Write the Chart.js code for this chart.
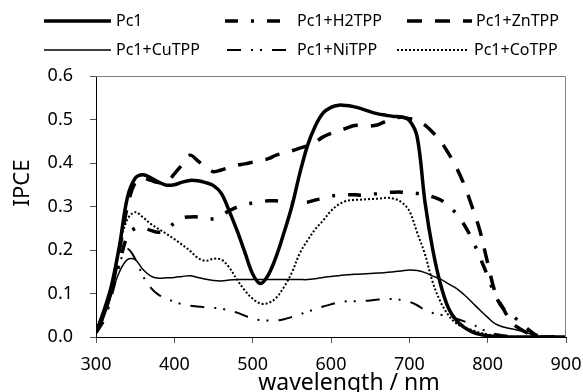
<!DOCTYPE html>
<html><head><meta charset="utf-8">
<script src="https://cdn.jsdelivr.net/npm/chart.js@4.4.1/dist/chart.umd.min.js"></script>
<style>html,body{margin:0;padding:0;background:#fff}#wrap{width:583px;height:392px;position:relative}</style>
</head><body><div id="wrap"><canvas id="c" width="583" height="392"></canvas></div>
<script>
const wavelengths = [300,310,320,330,340,350,360,370,380,390,400,410,420,430,440,450,460,470,480,490,500,510,520,530,540,550,560,570,580,590,600,610,620,630,640,650,660,670,680,690,700,710,720,730,740,750,760,770,780,790,800,810,820,830,840,850,860,870,880,890,900];
const seriesNames = ['Pc1','Pc1+H2TPP','Pc1+ZnTPP','Pc1+CuTPP','Pc1+NiTPP','Pc1+CoTPP'];
const pc1 = [0.01,0.06,0.12,0.21,0.32,0.365,0.373,0.366,0.356,0.349,0.35,
  0.356,0.36,0.359,0.355,0.348,0.33,0.29,0.245,0.195,0.145,
  0.123,0.143,0.185,0.24,0.30,0.375,0.44,0.485,0.515,0.528,
  0.533,0.532,0.529,0.524,0.518,0.513,0.51,0.507,0.506,0.498,
  0.46,0.31,0.20,0.12,0.066,0.038,0.022,0.012,0.006,0.003,
  0.001,0,0,0,0,0,0,0,0,0];
const h2tpp = [0.01,0.04,0.10,0.17,0.232,0.25,0.251,0.245,0.241,0.248,0.262,
  0.274,0.276,0.276,0.272,0.272,0.28,0.29,0.299,0.305,0.308,
  0.311,0.313,0.313,0.312,0.309,0.309,0.31,0.315,0.319,0.324,
  0.326,0.327,0.327,0.326,0.327,0.33,0.332,0.333,0.333,0.331,
  0.33,0.328,0.322,0.315,0.302,0.283,0.258,0.225,0.184,0.14,
  0.095,0.065,0.052,0.036,0.02,0.006,0,0,0,0];
const zntpp = [0.01,0.05,0.11,0.20,0.30,0.355,0.365,0.36,0.355,0.355,0.375,
  0.396,0.418,0.405,0.39,0.38,0.384,0.39,0.395,0.398,0.402,
  0.406,0.41,0.418,0.423,0.428,0.434,0.44,0.448,0.46,0.468,
  0.474,0.48,0.486,0.486,0.485,0.488,0.496,0.503,0.505,0.502,
  0.497,0.487,0.47,0.45,0.422,0.39,0.35,0.30,0.245,0.17,
  0.10,0.065,0.035,0.02,0.01,0.004,0,0,0,0];
const cutpp = [0.01,0.045,0.10,0.15,0.178,0.178,0.155,0.14,0.135,0.136,0.137,
  0.139,0.141,0.137,0.133,0.13,0.129,0.131,0.132,0.132,0.132,
  0.132,0.132,0.132,0.132,0.132,0.132,0.132,0.134,0.137,0.139,
  0.141,0.143,0.144,0.145,0.146,0.147,0.148,0.15,0.152,0.154,
  0.153,0.148,0.14,0.133,0.122,0.112,0.097,0.08,0.062,0.045,
  0.03,0.023,0.019,0.015,0.01,0.003,0,0,0,0];
const nitpp = [0.01,0.05,0.11,0.17,0.202,0.18,0.14,0.113,0.097,0.088,0.081,
  0.075,0.072,0.07,0.068,0.067,0.065,0.061,0.056,0.049,0.042,
  0.039,0.038,0.038,0.041,0.046,0.052,0.058,0.064,0.07,0.075,
  0.08,0.082,0.082,0.083,0.084,0.086,0.087,0.087,0.085,0.081,
  0.073,0.062,0.055,0.051,0.048,0.042,0.036,0.03,0.02,0.012,
  0.007,0.004,0.002,0,0,0,0,0,0,0];
const cotpp = [0.01,0.05,0.12,0.21,0.27,0.287,0.275,0.26,0.248,0.237,0.225,
  0.212,0.198,0.182,0.175,0.18,0.178,0.16,0.132,0.107,0.088,
  0.077,0.078,0.09,0.115,0.148,0.192,0.222,0.248,0.268,0.29,
  0.305,0.313,0.315,0.316,0.317,0.318,0.32,0.318,0.31,0.29,
  0.24,0.19,0.125,0.08,0.05,0.031,0.022,0.016,0.01,0.006,
  0.003,0,0,0,0,0,0,0,0,0];
const xTicks = [300,400,500,600,700,800,900];
const yTicks = [0.0,0.1,0.2,0.3,0.4,0.5,0.6];
const xTitle = 'wavelength / nm';
const yTitle = 'IPCE';

const seriesValues = [pc1,h2tpp,zntpp,cutpp,nitpp,cotpp];
const styles = [
  {w:3.5, dash:[]},
  {w:3.5, dash:[13,13,3,13]},
  {w:3.5, dash:[15,13]},
  {w:1.5, dash:[]},
  {w:2, dash:[14,10,2,7,2,10]},
  {w:2, dash:[2,2]}
];
const legendPos = [
  {x1:44,x2:111,tx:116,y:21},
  {x1:225,x2:282,tx:297,y:21},
  {x1:407,x2:472,tx:476,y:21},
  {x1:44,x2:111,tx:116,y:50},
  {x1:227,x2:292,tx:297,y:50},
  {x1:397,x2:469,tx:474,y:50}
];
const FONT = '"Noto Sans", sans-serif';

const datasets = seriesNames.map((n,i)=>({
  label:n,
  data: wavelengths.map((x,j)=>({x:x,y:seriesValues[i][j]})),
  borderColor:'#000',
  borderWidth:styles[i].w,
  borderDash:styles[i].dash,
  pointRadius:0,
  fill:false,
  tension:0.35,
  borderCapStyle:'butt'
}));

const extras = {
  id:'extras',
  afterDraw(chart){
    const ctx = chart.ctx, a = chart.chartArea;
    ctx.save();
    ctx.strokeStyle = '#808080'; ctx.lineWidth = 1; ctx.setLineDash([]);
    ctx.beginPath();
    ctx.moveTo(a.left, a.top+0.5); ctx.lineTo(a.right-0.5, a.top+0.5); ctx.lineTo(a.right-0.5, a.bottom);
    ctx.stroke();
    // legend
    ctx.fillStyle = '#000';
    ctx.font = '16px ' + FONT;
    ctx.textBaseline = 'middle';
    ctx.textAlign = 'left';
    seriesNames.forEach((n,i)=>{
      const p = legendPos[i], s = styles[i];
      ctx.strokeStyle = '#000';
      ctx.lineWidth = s.w;
      ctx.setLineDash(s.dash);
      ctx.lineCap = 'butt';
      ctx.beginPath(); ctx.moveTo(p.x1, p.y); ctx.lineTo(p.x2, p.y); ctx.stroke();
      ctx.fillText(n, p.tx, p.y);
    });
    ctx.setLineDash([]);
    // axis titles
    ctx.font = '23px ' + FONT;
    ctx.textAlign = 'center';
    ctx.textBaseline = 'alphabetic';
    ctx.fillText(xTitle, 349, 390);
    ctx.translate(23, 183);
    ctx.rotate(-Math.PI/2);
    ctx.font = '22px ' + FONT;
    ctx.textBaseline = 'middle';
    ctx.fillText(yTitle, 0, 0);
    ctx.restore();
  }
};

new Chart(document.getElementById('c'), {
  type:'line',
  data:{datasets},
  options:{
    responsive:false,
    animation:false,
    devicePixelRatio:1,
    layout:{padding:{top:76,right:17,left:0,bottom:0}},
    plugins:{legend:{display:false},tooltip:{enabled:false}},
    scales:{
      x:{
        type:'linear', min:300, max:900,
        afterBuildTicks(s){ s.ticks = xTicks.map(v=>({value:v})); },
        afterFit(s){ s.height = 55; s.paddingLeft = 0; s.paddingRight = 0; },
        grid:{drawOnChartArea:false, drawTicks:true, tickLength:6, color:'#555'},
        border:{color:'#000', width:1},
        ticks:{font:{family:FONT,size:18}, color:'#000', padding:11, maxRotation:0, callback:v=>String(v)}
      },
      y:{
        min:0, max:0.6,
        afterBuildTicks(s){ s.ticks = yTicks.map(v=>({value:v})); },
        afterFit(s){ s.width = 96; s.paddingTop = 0; s.paddingBottom = 0; },
        grid:{drawOnChartArea:false, drawTicks:true, tickLength:6, color:'#555'},
        border:{color:'#000', width:1},
        ticks:{font:{family:FONT,size:18}, color:'#000', padding:17, callback:v=>Number(v).toFixed(1)}
      }
    }
  },
  plugins:[extras]
});
</script></body></html>
